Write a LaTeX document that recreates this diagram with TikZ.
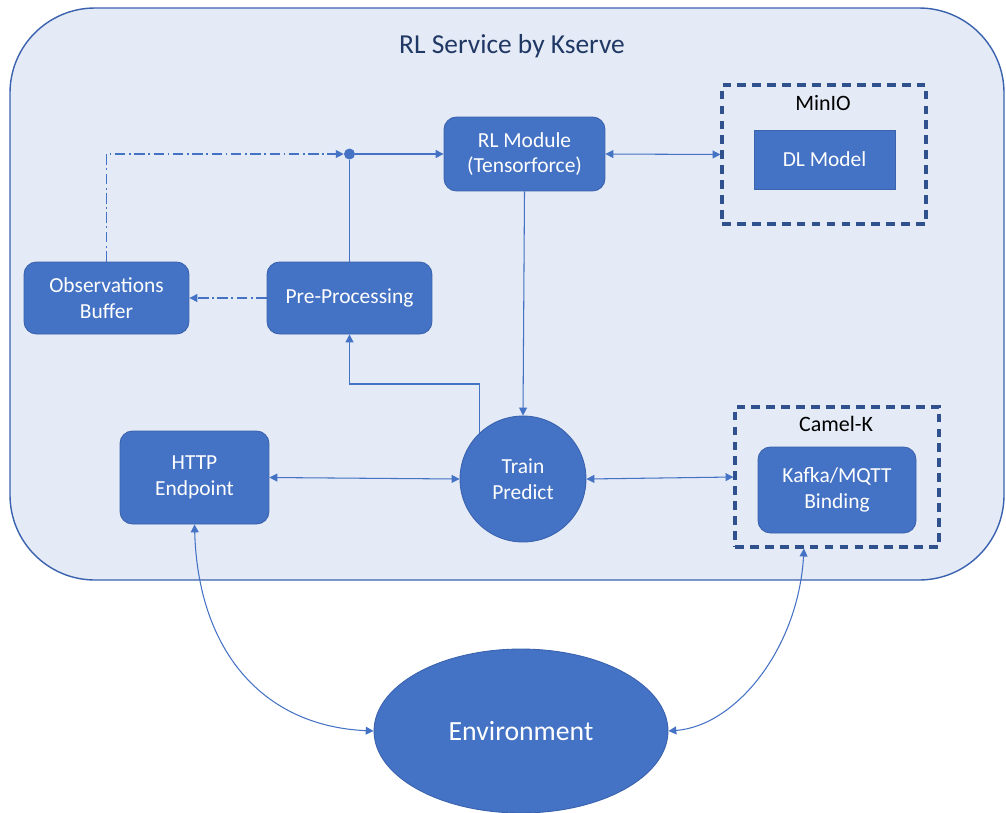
\documentclass[tikz,border=0pt]{standalone}
\usepackage{fontspec}
\setmainfont{Carlito}
\usetikzlibrary{arrows.meta,shapes.geometric,calc}
\definecolor{boxblue}{HTML}{4472C4}
\definecolor{edgeblue}{HTML}{3A62AE}
\definecolor{bgblue}{HTML}{E4EAF6}
\definecolor{navy}{HTML}{203864}
\definecolor{dashblue}{HTML}{2F528F}
\definecolor{lineblue}{HTML}{4472C4}
\begin{document}
\begin{tikzpicture}[x=0.02cm,y=-0.02cm,
  box/.style={draw=edgeblue, line width=0.5pt, fill=boxblue, rounded corners=0.25cm,
    text=white, font=\fontsize{12.2}{14.5}\selectfont, align=center, inner sep=0pt},
  sqbox/.style={box, rounded corners=0pt},
  group/.style={draw=dashblue, line width=1.8pt, dash pattern=on 5pt off 3.5pt, inner sep=0pt},
  grouplabel/.style={font=\fontsize{12.5}{14}\selectfont, text=black},
  conn/.style={draw=lineblue, line width=0.6pt},
  tip/.style={-{Triangle[length=4.5pt,width=4.5pt]}},
  both/.style={{Triangle[length=4.5pt,width=4.5pt]}-{Triangle[length=4.5pt,width=4.5pt]}},
  dashdot/.style={dash pattern=on 6pt off 2pt on 1pt off 2pt},
  junction/.style={circle, fill=lineblue, inner sep=0pt, minimum width=0.18cm, minimum height=0.22cm}
]
\useasboundingbox (0,0) rectangle (1006,812);
\clip (0,0) rectangle (1006,812);

% outer service container
\draw[draw=edgeblue, line width=0.8pt, fill=bgblue, rounded corners=1.7cm] (10,8) rectangle (1004,580);
\node[text=navy, font=\fontsize{15.6}{18}\selectfont] (title) at (512,46) {RL Service by Kserve};

% nodes
\node[box, minimum width=3.22cm, minimum height=1.48cm] (rl) at (524.5,154) {RL Module\\(Tensorforce)};
\node[group, minimum width=4.08cm, minimum height=2.78cm] (minio) at (824,154.5) {};
\node[grouplabel] (miniolbl) at (823,103) {MinIO};
\node[sqbox, minimum width=2.82cm, minimum height=1.18cm] (dl) at (824.5,159.5) {DL Model};

\node[box, minimum width=3.3cm, minimum height=1.44cm] (obs) at (106.5,298) {Observations\\Buffer};
\node[box, minimum width=3.3cm, minimum height=1.44cm] (pre) at (349.5,298) {Pre-Processing};
\node[box, minimum width=2.98cm, minimum height=1.86cm] (http) at (194.5,477.5) {HTTP\\Endpoint};
\node[box, circle, minimum size=2.52cm] (train) at (523,479) {Train\\Predict};

\node[group, minimum width=4.08cm, minimum height=2.8cm] (camel) at (837,477) {};
\node[grouplabel] (camellbl) at (836,424) {Camel-K};
\node[box, minimum width=3.16cm, minimum height=1.72cm] (kafka) at (837,490) {Kafka/MQTT\\Binding};

\node[ellipse, draw=edgeblue, line width=0.5pt, fill=boxblue, text=white,
  minimum width=5.88cm, minimum height=3.28cm, font=\fontsize{15.8}{19}\selectfont] (env) at (521,731) {Environment};

\node[junction] (dot) at (pre.north |- rl.west) {};

% connectors
\draw[conn, dashdot, tip] (obs.north) |- (dot.west);
\draw[conn, tip] (dot.east) -- (rl.west);
\draw[conn] (pre.north) -- (dot.south);
\draw[conn, dashdot, tip] (pre.west) -- (obs.east);
\draw[conn, both] (rl.east) -- (minio.west);
\draw[conn, tip] (rl.south) -- (train.north);
\coordinate (bend) at (479,384);
\draw[conn, tip] (train.133) -- (train.133 |- bend) -| (pre.south);
\draw[conn, both] (http.east) -- (train.west);
\draw[conn, both] (train.east) -- (camel.west);
\draw[conn, both] (http.south) .. controls (198,650) and (262,726) .. (env.west);
\draw[conn, both] ([xshift=-0.66cm]camel.south) .. controls (798,650) and (735,726) .. (env.east);
\end{tikzpicture}
\end{document}
